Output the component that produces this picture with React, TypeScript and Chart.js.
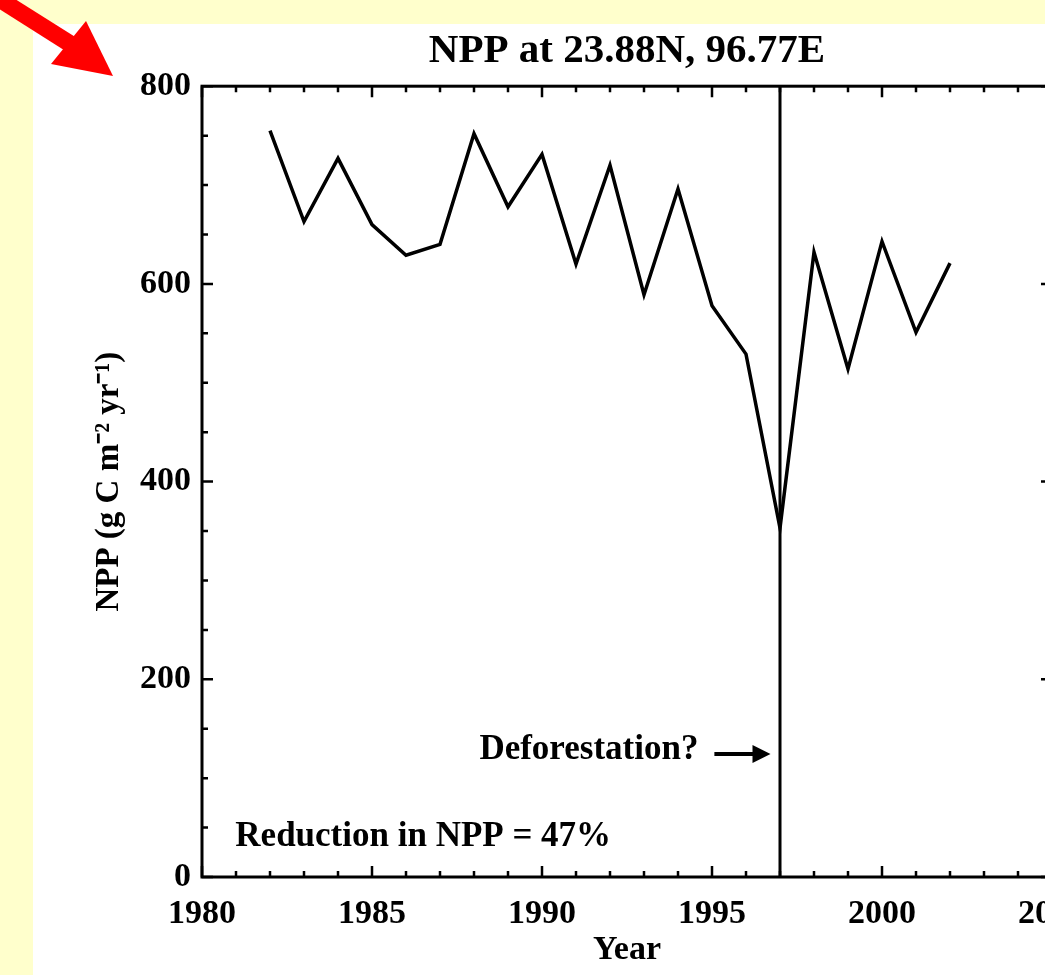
import React, { useEffect, useRef } from "react";
import { Chart, registerables } from "chart.js";

Chart.register(...registerables);

const years = [1982, 1983, 1984, 1985, 1986, 1987, 1988, 1989, 1990, 1991, 1992, 1993, 1994, 1995, 1996, 1997, 1998, 1999, 2000, 2001, 2002];
const npp = [755, 663, 727, 660, 629, 640, 752, 678, 731, 620, 720, 589, 696, 578, 529, 353, 632, 514, 643, 551, 621];
const eventYear = 1997;
const xTickStep = 5;
const yTickStep = 200;
const titleText = "NPP at 23.88N, 96.77E";
const xTitle = "Year";
const yTitle = "NPP (g C m\u207B\u00B2 yr\u207B\u00B9)";
const noteDeforest = "Deforestation?";
const noteReduction = "Reduction in NPP = 47%";

const SERIF = '"Liberation Serif", "Times New Roman", Times, serif';
const W = 1103;
const H = 975;

const decorPlugin = {
  id: "decor",
  beforeDraw(chart: any) {
    const ctx = chart.ctx;
    ctx.save();
    ctx.fillStyle = "#FFFFCC";
    ctx.fillRect(0, 0, chart.width, chart.height);
    ctx.fillStyle = "#FFFFFF";
    ctx.fillRect(33, 24, chart.width - 33, chart.height - 24);
    // red arrow
    ctx.strokeStyle = "#FF0000";
    ctx.fillStyle = "#FF0000";
    ctx.lineWidth = 17;
    ctx.beginPath();
    ctx.moveTo(-12, -8);
    ctx.lineTo(72, 45);
    ctx.stroke();
    ctx.beginPath();
    ctx.moveTo(113, 76);
    ctx.lineTo(51, 64);
    ctx.lineTo(86, 21);
    ctx.closePath();
    ctx.fill();
    ctx.restore();
  },
  afterDatasetsDraw(chart: any) {
    const ctx = chart.ctx;
    const { left, right, top, bottom } = chart.chartArea;
    const xs = chart.scales.x;
    const ys = chart.scales.y;
    ctx.save();
    ctx.strokeStyle = "#000";
    ctx.lineWidth = 3;
    ctx.strokeRect(left, top, right - left, bottom - top);
    ctx.lineWidth = 2.5;
    ctx.beginPath();
    for (let v = xs.min; v <= xs.max; v += 1) {
      const px = xs.getPixelForValue(v);
      const len = v % xTickStep === 0 ? 11 : 6;
      ctx.moveTo(px, bottom);
      ctx.lineTo(px, bottom - len);
      ctx.moveTo(px, top);
      ctx.lineTo(px, top + len);
    }
    for (let v = ys.min; v <= ys.max; v += 50) {
      const py = ys.getPixelForValue(v);
      const len = v % yTickStep === 0 ? 11 : 6;
      ctx.moveTo(left, py);
      ctx.lineTo(left + len, py);
      ctx.moveTo(right, py);
      ctx.lineTo(right - len, py);
    }
    ctx.stroke();

    // annotations
    ctx.fillStyle = "#000";
    ctx.font = "bold 35px " + SERIF;
    ctx.textBaseline = "middle";
    ctx.textAlign = "right";
    ctx.fillText(noteDeforest, xs.getPixelForValue(1994.6), ys.getPixelForValue(129));
    ctx.textAlign = "left";
    ctx.fillText(noteReduction, xs.getPixelForValue(1980.98), ys.getPixelForValue(41));

    const ay = ys.getPixelForValue(124.5);
    const ax0 = xs.getPixelForValue(1995.07);
    const ax1 = xs.getPixelForValue(1996.72);
    ctx.lineWidth = 4;
    ctx.beginPath();
    ctx.moveTo(ax0, ay);
    ctx.lineTo(ax1 - 14, ay);
    ctx.stroke();
    ctx.beginPath();
    ctx.moveTo(ax1, ay);
    ctx.lineTo(ax1 - 18, ay - 9);
    ctx.lineTo(ax1 - 18, ay + 9);
    ctx.closePath();
    ctx.fill();
    ctx.restore();
  },
};

export default function App() {
  const ref = useRef<HTMLCanvasElement | null>(null);
  useEffect(() => {
    if (!ref.current) return;
    const points = years.map((y, i) => ({ x: y, y: npp[i] }));
    const chart = new Chart(ref.current, {
      type: "line",
      data: {
        datasets: [
          {
            data: points,
            borderColor: "#000",
            borderWidth: 3.5,
            pointRadius: 0,
            tension: 0,
            fill: false,
          },
          {
            data: [
              { x: eventYear, y: 0 },
              { x: eventYear, y: 800 },
            ],
            borderColor: "#000",
            borderWidth: 3,
            pointRadius: 0,
            fill: false,
          },
        ],
      },
      plugins: [decorPlugin],
      options: {
        animation: false,
        responsive: false,
        devicePixelRatio: 1,
        layout: { padding: { left: 0, right: 40, top: 0, bottom: 0 } },
        plugins: {
          legend: { display: false },
          tooltip: { enabled: false },
          title: {
            display: true,
            text: titleText,
            fullSize: false,
            color: "#000",
            font: { family: SERIF, size: 41, weight: "bold" },
            padding: { top: 27, bottom: 10 },
          },
        },
        scales: {
          x: {
            type: "linear",
            min: 1980,
            max: 2005,
            grid: { display: false, drawTicks: false },
            border: { display: false },
            ticks: {
              stepSize: xTickStep,
              color: "#000",
              padding: 17,
              maxRotation: 0,
              font: { family: SERIF, size: 34, weight: "bold" },
              callback: (v: any) => String(v),
            },
            title: {
              display: true,
              text: xTitle,
              color: "#000",
              font: { family: SERIF, size: 34, weight: "bold" },
              padding: { top: 0, bottom: 4 },
            },
            afterFit: (s: any) => {
              s.height = 98;
            },
          },
          y: {
            type: "linear",
            min: 0,
            max: 800,
            grid: { display: false, drawTicks: false },
            border: { display: false },
            ticks: {
              stepSize: yTickStep,
              color: "#000",
              padding: 11,
              font: { family: SERIF, size: 34, weight: "bold" },
            },
            title: {
              display: true,
              text: yTitle,
              color: "#000",
              font: { family: SERIF, size: 33, weight: "bold" },
              padding: { top: 90, bottom: 0 },
            },
            afterFit: (s: any) => {
              s.width = 202;
            },
          },
        },
      },
    } as any);
    return () => chart.destroy();
  }, []);
  return (
    <div style={{ position: "fixed", left: 0, top: 0, width: 1045, height: 975, overflow: "hidden", background: "#FFFFCC" }}>
      <canvas ref={ref} width={W} height={H} style={{ display: "block", width: W, height: H }} />
    </div>
  );
}
